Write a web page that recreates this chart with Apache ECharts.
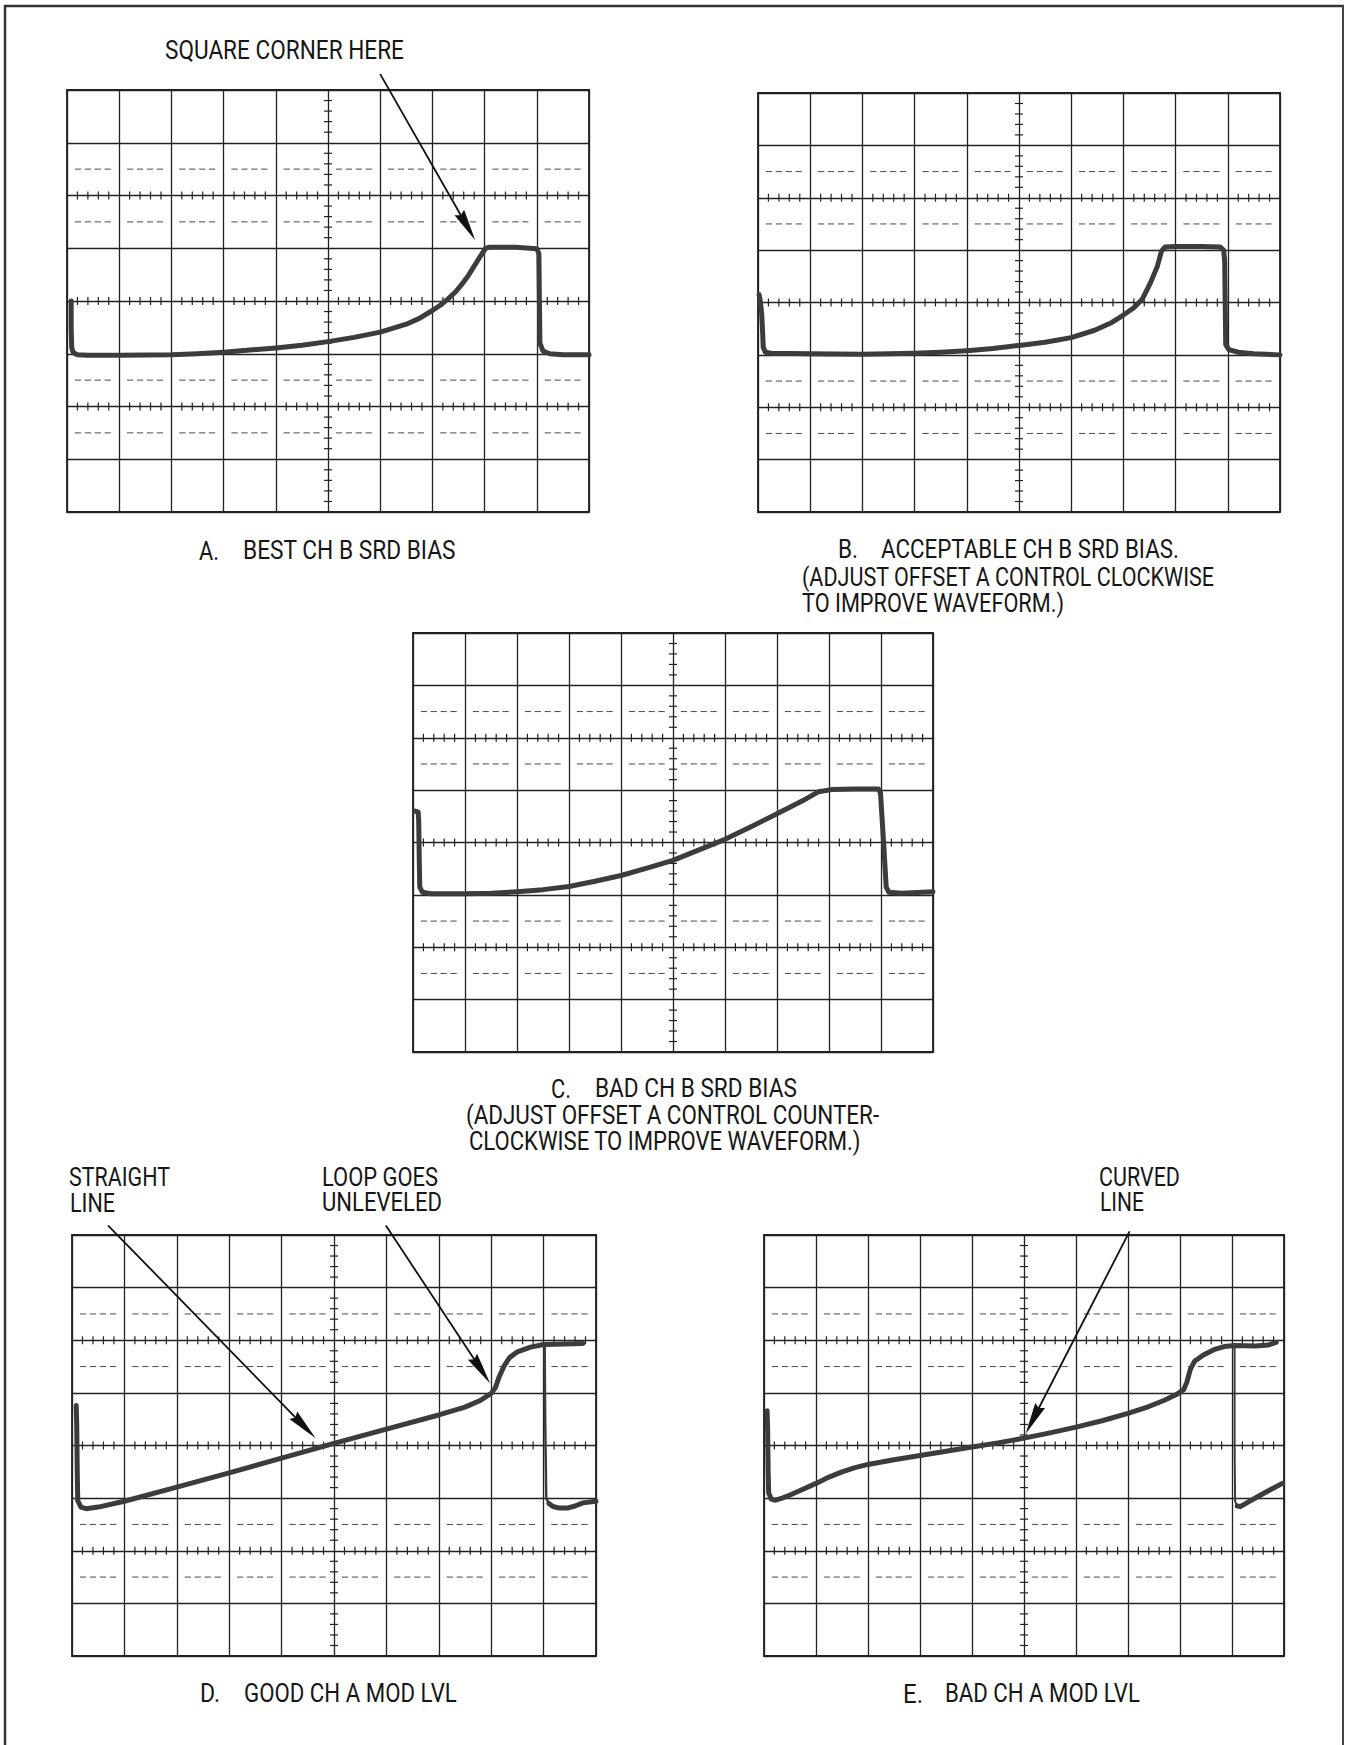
<!DOCTYPE html>
<html>
<head>
<meta charset="utf-8">
<script src="https://cdn.jsdelivr.net/npm/echarts/dist/echarts.min.js"></script>
<style>
html,body{margin:0;padding:0;background:#fff;}
#c{width:1345px;height:1745px;}
</style>
</head>
<body>
<div id="c"></div>
<script>
// ---------- waveform data (x: 0..10 divisions, y: -4..4 divisions) ----------
const traceA = [[0.08,0.0],[0.08,-0.5],[0.09,-0.88],[0.12,-0.98],[0.2,-1.02],[0.4,-1.03],[1.0,-1.03],[2.0,-1.02],[2.5,-1.0],[3.0,-0.97],[3.5,-0.93],[4.0,-0.89],[4.5,-0.84],[5.0,-0.77],[5.5,-0.69],[6.0,-0.59],[6.5,-0.44],[6.75,-0.33],[7.0,-0.18],[7.15,-0.08],[7.3,0.04],[7.45,0.18],[7.55,0.3],[7.68,0.47],[7.8,0.66],[7.9,0.82],[8.02,1.0],[8.1,1.02],[8.6,1.02],[9.0,0.99],[9.04,0.9],[9.05,0.0],[9.06,-0.8],[9.12,-0.95],[9.25,-1.0],[9.5,-1.02],[10.0,-1.02]];
const traceB = [[0.02,0.15],[0.04,0.05],[0.07,-0.2],[0.09,-0.6],[0.1,-0.85],[0.14,-0.95],[0.25,-0.97],[1.0,-0.98],[2.0,-0.99],[3.0,-0.97],[3.5,-0.95],[4.0,-0.92],[4.5,-0.88],[5.0,-0.82],[5.5,-0.76],[6.0,-0.67],[6.45,-0.53],[6.78,-0.38],[7.0,-0.24],[7.2,-0.1],[7.36,0.06],[7.52,0.38],[7.65,0.69],[7.73,0.98],[7.8,1.06],[8.0,1.07],[8.5,1.07],[8.85,1.06],[8.92,1.0],[8.94,0.8],[8.95,0.0],[8.96,-0.8],[9.02,-0.9],[9.2,-0.95],[9.5,-0.98],[10.0,-1.0]];
const traceC = [[0.04,0.6],[0.1,0.58],[0.11,0.4],[0.12,-0.3],[0.13,-0.85],[0.18,-0.95],[0.35,-0.98],[1.0,-0.98],[1.5,-0.97],[2.0,-0.94],[2.5,-0.9],[3.0,-0.84],[3.5,-0.74],[4.0,-0.63],[4.5,-0.49],[5.0,-0.34],[5.5,-0.14],[6.0,0.06],[6.5,0.3],[7.0,0.55],[7.5,0.8],[7.8,0.97],[8.05,1.01],[8.5,1.02],[8.95,1.02],[8.99,0.95],[9.05,0.0],[9.1,-0.85],[9.15,-0.95],[9.4,-0.97],[10.0,-0.94]];
const traceD = [[0.08,0.76],[0.09,0.4],[0.1,-0.5],[0.11,-1.05],[0.17,-1.17],[0.27,-1.2],[0.5,-1.17],[1.0,-1.06],[2.0,-0.79],[3.0,-0.52],[4.0,-0.24],[5.0,0.04],[6.0,0.31],[7.0,0.58],[7.5,0.73],[7.8,0.86],[8.0,0.99],[8.08,1.1],[8.15,1.3],[8.25,1.52],[8.35,1.67],[8.5,1.78],[8.75,1.87],[9.0,1.92],[9.4,1.93],[9.75,1.94]];
const traceDfall = [[9.02,1.92],[9.03,0.5],[9.05,-1.0],[9.1,-1.1]];
const traceDlow = [[9.1,-1.1],[9.18,-1.16],[9.3,-1.19],[9.45,-1.19],[9.6,-1.15],[9.75,-1.09],[10.0,-1.06]];
const traceE = [[0.06,0.66],[0.07,0.3],[0.08,-0.5],[0.09,-0.9],[0.14,-1.02],[0.22,-1.04],[0.35,-1.0],[0.5,-0.94],[0.75,-0.83],[1.0,-0.72],[1.25,-0.6],[1.5,-0.5],[1.75,-0.42],[2.0,-0.36],[2.5,-0.27],[3.0,-0.19],[3.5,-0.11],[4.0,-0.03],[4.5,0.05],[5.0,0.14],[5.5,0.24],[6.0,0.35],[6.5,0.47],[7.0,0.61],[7.4,0.74],[7.7,0.86],[7.95,0.98],[8.07,1.06],[8.13,1.2],[8.2,1.45],[8.28,1.6],[8.45,1.72],[8.65,1.82],[8.85,1.88],[9.05,1.9],[9.45,1.89],[9.7,1.91],[9.85,1.96]];
const traceEfall = [[9.05,1.9],[9.05,0.0],[9.06,-1.06],[9.1,-1.15]];
const traceElow = [[9.1,-1.15],[9.16,-1.16],[9.3,-1.08],[9.5,-0.97],[9.7,-0.86],[9.97,-0.72]];

// ---------- annotation arrows [fromX, fromY, toX, toY] in panel divisions ----------
const arrowsA = [[6.0,4.3,7.82,1.15]];
const arrowsD = [[0.69,4.18,4.65,0.14],[5.99,4.18,7.98,1.18]];
const arrowsE = [[7.03,4.07,5.03,0.22]];

// ---------- graticule layout ----------
const DASH_Y = [2.5,1.5,-1.5,-2.5];
const TICK_Y = [2,0,-2];
const CENTER_X = 5;

// ---------- panel layout (pixels) ----------
const PANELS = [
  {left:67, top:90, width:522, height:422},
  {left:758, top:93, width:522, height:419},
  {left:413, top:633, width:520, height:419},
  {left:72, top:1235, width:524, height:421},
  {left:764, top:1235, width:520, height:421}
];

// ---------- texts ----------
const LABELS = [
  {t:'SQUARE CORNER HERE', x:165, y:51, w:239},
  {t:'A.', x:199, y:551, w:20},
  {t:'BEST CH B SRD BIAS', x:243, y:551, w:213},
  {t:'B.', x:838, y:550, w:20},
  {t:'ACCEPTABLE CH B SRD BIAS.', x:881, y:550, w:298},
  {t:'(ADJUST OFFSET A CONTROL CLOCKWISE', x:802, y:577, w:413},
  {t:'TO IMPROVE WAVEFORM.)', x:802, y:603, w:262},
  {t:'C.', x:551, y:1089, w:20},
  {t:'BAD CH B SRD BIAS', x:595, y:1089, w:202},
  {t:'(ADJUST OFFSET A CONTROL COUNTER-', x:466, y:1116, w:414},
  {t:'CLOCKWISE TO IMPROVE WAVEFORM.)', x:469, y:1142, w:392},
  {t:'STRAIGHT', x:69, y:1177, w:101},
  {t:'LINE', x:70, y:1203, w:45},
  {t:'LOOP GOES', x:322, y:1177, w:116},
  {t:'UNLEVELED', x:322, y:1203, w:120},
  {t:'CURVED', x:1099, y:1177, w:81},
  {t:'LINE', x:1100, y:1203, w:44},
  {t:'D.', x:200, y:1694, w:20},
  {t:'GOOD CH A MOD LVL', x:244, y:1694, w:213},
  {t:'E.', x:903, y:1694, w:20},
  {t:'BAD CH A MOD LVL', x:945, y:1694, w:195}
];

const FONT = '25px Roboto';
const INK = '#161616';
const GRID_C = '#222';
const TRACE_C = '#3c3c3c';

const measureCtx = document.createElement('canvas').getContext('2d');
measureCtx.font = FONT;

function graticuleRender(params, api) {
  const children = [];
  const seg = (a, b, w, c) => children.push({type:'line', shape:{x1:a[0],y1:a[1],x2:b[0],y2:b[1]}, style:{stroke:c, lineWidth:w}});
  DASH_Y.forEach(y => {
    for (let c = 0; c < 10; c++) {
      for (let k = 0; k < 4; k++) {
        const x0 = c + 0.15 + k * 0.19;
        seg(api.coord([x0, y]), api.coord([x0 + 0.12, y]), 1, '#4a4a4a');
      }
    }
  });
  TICK_Y.forEach(y => {
    for (let c = 0; c < 10; c++) {
      for (let k = 1; k < 5; k++) {
        const p = api.coord([c + k * 0.2, y]);
        seg([p[0], p[1] - 4], [p[0], p[1] + 4], 1.2, GRID_C);
      }
    }
  });
  for (let r = -4; r < 4; r++) {
    for (let k = 1; k < 5; k++) {
      const p = api.coord([CENTER_X, r + k * 0.2]);
      seg([p[0] - 4, p[1]], [p[0] + 4, p[1]], 1.2, GRID_C);
    }
  }
  return {type:'group', children};
}

function arrowRender(params, api) {
  const s = api.coord([api.value(0), api.value(1)]);
  const t = api.coord([api.value(2), api.value(3)]);
  const dx = t[0] - s[0], dy = t[1] - s[1];
  const len = Math.hypot(dx, dy), ux = dx / len, uy = dy / len;
  const L = 32, W = 5.5;
  const b = [t[0] - ux * L, t[1] - uy * L];
  return {type:'group', children:[
    {type:'line', shape:{x1:s[0], y1:s[1], x2:b[0] + ux * 4, y2:b[1] + uy * 4}, style:{stroke:'#111', lineWidth:1.8}},
    {type:'polygon', shape:{points:[t, [b[0] - uy * W, b[1] + ux * W], [b[0] + ux * 3, b[1] + uy * 3], [b[0] + uy * W, b[1] - ux * W]]}, style:{fill:'#111'}}
  ]};
}

const grids = PANELS.map(p => ({left:p.left, top:p.top, width:p.width, height:p.height, show:true, borderColor:'#222', borderWidth:1.8, backgroundColor:'#fff'}));
const xAxes = PANELS.map((p, i) => ({type:'value', gridIndex:i, min:0, max:10, interval:1,
  axisLabel:{show:false}, axisTick:{show:false}, axisLine:{show:false},
  splitLine:{show:true, lineStyle:{color:GRID_C, width:1.3}}}));
const yAxes = PANELS.map((p, i) => ({type:'value', gridIndex:i, min:-4, max:4, interval:1,
  axisLabel:{show:false}, axisTick:{show:false}, axisLine:{show:false},
  splitLine:{show:true, lineStyle:{color:GRID_C, width:1.3}}}));

const series = [];
PANELS.forEach((p, i) => {
  series.push({type:'custom', xAxisIndex:i, yAxisIndex:i, data:[[0,0]], renderItem:graticuleRender, silent:true, z:1});
});
function traceSeries(data, i, w) {
  return {type:'line', xAxisIndex:i, yAxisIndex:i, data:data, showSymbol:false, symbol:'none', smooth:false,
    lineStyle:{color:TRACE_C, width:w, cap:'round', join:'round'}, z:5, silent:true};
}
series.push(traceSeries(traceA, 0, 5));
series.push(traceSeries(traceB, 1, 5));
series.push(traceSeries(traceC, 2, 5));
series.push(traceSeries(traceD, 3, 5));
series.push(traceSeries(traceDfall, 3, 2.5));
series.push(traceSeries(traceDlow, 3, 5));
series.push(traceSeries(traceE, 4, 5));
series.push(traceSeries(traceEfall, 4, 2));
series.push(traceSeries(traceElow, 4, 5));
[[arrowsA,0],[arrowsD,3],[arrowsE,4]].forEach(([arr, i]) => {
  series.push({type:'custom', xAxisIndex:i, yAxisIndex:i, data:arr, renderItem:arrowRender, clip:false, silent:true, z:10});
});

const graphic = [
  {type:'line', shape:{x1:4, y1:6, x2:1344, y2:6}, style:{stroke:'#333', lineWidth:2.5}},
  {type:'line', shape:{x1:5, y1:5, x2:5, y2:1745}, style:{stroke:'#333', lineWidth:2.5}},
  {type:'line', shape:{x1:1343, y1:5, x2:1343, y2:1745}, style:{stroke:'#444', lineWidth:2}}
];
LABELS.forEach(l => {
  const m = measureCtx.measureText(l.t).width;
  graphic.push({type:'text', x:l.x, y:l.y, scaleX: l.w / m,
    style:{text:l.t, font:FONT, fill:INK, align:'left', verticalAlign:'middle'}});
});

const chart = echarts.init(document.getElementById('c'), null, {renderer:'svg', width:1345, height:1745});
chart.setOption({
  animation:false,
  backgroundColor:'#fff',
  grid:grids,
  xAxis:xAxes,
  yAxis:yAxes,
  series:series,
  graphic:graphic
});
</script>
</body>
</html>
